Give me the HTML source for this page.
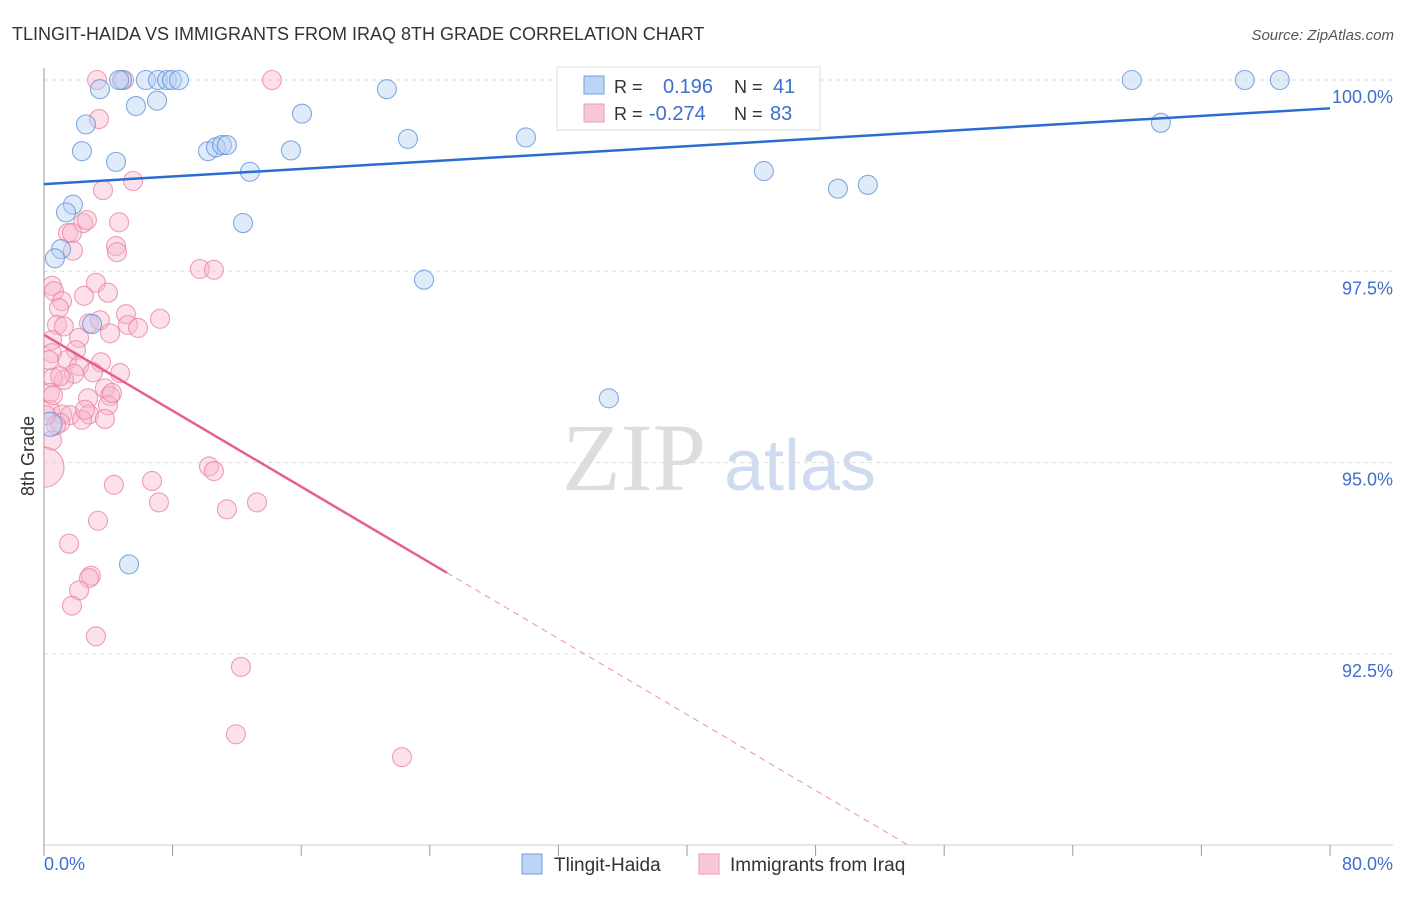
<!DOCTYPE html>
<html><head><meta charset="utf-8"><style>
body{margin:0;background:#fff;font-family:"Liberation Sans",sans-serif}
svg text{font-family:"Liberation Sans",sans-serif}
</style></head><body>
<svg id="chart" width="1406" height="892" viewBox="0 0 1406 892" xmlns="http://www.w3.org/2000/svg">
<defs><clipPath id="plotclip"><rect x="44" y="60" width="1360" height="785"/></clipPath></defs>
<text x="12" y="40" font-size="18" fill="#333">TLINGIT-HAIDA VS IMMIGRANTS FROM IRAQ 8TH GRADE CORRELATION CHART</text>
<text x="1394" y="40" font-size="15" fill="#555" font-style="italic" text-anchor="end">Source: ZipAtlas.com</text>
<g>
<text x="634" y="490" font-size="96" fill="#ddd" text-anchor="middle" font-family="Liberation Serif" style="font-family:'Liberation Serif',serif">ZIP</text>
<text x="800" y="490" font-size="72" fill="#cfdcef" text-anchor="middle">atlas</text>
</g>
<g id="grid"></g>
<g id="axes"></g>
<g id="pts" clip-path="url(#plotclip)"></g>
<g id="trends"></g>
<text transform="translate(34,456) rotate(-90)" font-size="18" fill="#333" text-anchor="middle">8th Grade</text>
<text x="44" y="870" font-size="18" fill="#3d6fcc">0.0%</text>
<text x="1393" y="870" font-size="18" fill="#3d6fcc" text-anchor="end">80.0%</text>
<g>
<rect x="557" y="67" width="263" height="63" fill="#fff" stroke="#ddd"/>
<rect x="584" y="76" width="20" height="18" fill="#bcd4f5" stroke="#6f9ee0"/>
<rect x="584" y="104" width="20" height="18" fill="#f9c8d8" stroke="#e99ab6"/>
<text x="614" y="93" font-size="18" fill="#333">R = </text><text x="663" y="93" font-size="20" fill="#3d6fcc">0.196</text>
<text x="734" y="93" font-size="18" fill="#333">N = </text><text x="773" y="93" font-size="20" fill="#3d6fcc">41</text>
<text x="614" y="120" font-size="18" fill="#333">R = </text><text x="649" y="120" font-size="20" fill="#3d6fcc">-0.274</text>
<text x="734" y="120" font-size="18" fill="#333">N = </text><text x="770" y="120" font-size="20" fill="#3d6fcc">83</text>
</g>
<g>
<rect x="522" y="854" width="20" height="20" fill="#bcd4f5" stroke="#6f9ee0"/>
<text x="554" y="871" font-size="19" fill="#333">Tlingit-Haida</text>
<rect x="699" y="854" width="20" height="20" fill="#f9c8d8" stroke="#e99ab6"/>
<text x="730" y="871" font-size="19" fill="#333">Immigrants from Iraq</text>
</g>
</svg>
<script>
const yTicks=[100,97.5,95,92.5];
const yTickLabels=["100.0%","97.5%","95.0%","92.5%"];
const xTicks=[0,8,16,24,32,40,48,56,64,72,80];
const blueX=[4.85,6.34,7.09,7.65,7.96,8.40,4.67,3.48,5.72,7.03,2.61,2.36,4.48,1.80,1.37,1.06,0.68,0.37,2.99,10.2,10.7,11.07,11.38,12.81,12.38,15.36,16.05,21.33,22.64,29.98,23.64,35.14,5.29,36.57,44.78,49.39,51.25,67.67,69.48,74.7,76.88];
const blueY=[100,100,100,100,100,100,100,99.88,99.66,99.73,99.42,99.07,98.93,98.37,98.27,97.79,97.67,95.50,96.81,99.07,99.12,99.15,99.15,98.80,98.13,99.08,99.56,99.88,99.23,99.25,97.39,95.84,93.67,100,98.81,98.58,98.63,100,99.44,100,100];
const pinkX=[3.30,4.98,14.18,3.42,3.67,5.54,2.43,2.67,4.67,1.49,1.74,1.80,4.48,4.54,9.70,10.57,0.50,0.62,1.12,2.49,3.23,3.98,0.93,7.22,5.10,0.81,1.24,2.80,3.48,5.22,5.85,4.11,0.50,2.18,1.99,0.50,3.55,1.43,2.18,4.73,3.05,1.87,1.24,0.56,3.79,0.37,4.11,2.74,3.98,0.37,1.12,2.80,1.62,3.79,1.00,2.36,0.50,0,10.26,10.57,6.72,4.35,7.15,13.25,11.38,3.36,1.56,2.92,2.80,2.18,1.74,3.23,12.25,11.94,22.27,1.00,0.75,0.12,0.31,2.55,4.23,0.56];
const pinkY=[100,100,100,99.49,98.56,98.68,98.13,98.17,98.14,98.00,98.00,97.77,97.83,97.75,97.53,97.52,97.31,97.24,97.11,97.18,97.35,97.22,97.02,96.88,96.94,96.80,96.78,96.82,96.86,96.80,96.76,96.69,96.60,96.63,96.47,96.43,96.31,96.34,96.26,96.17,96.18,96.16,96.08,96.11,95.97,95.91,95.87,95.84,95.75,95.69,95.63,95.63,95.62,95.57,95.52,95.56,95.29,94.94,94.95,94.89,94.76,94.71,94.48,94.48,94.39,94.24,93.94,93.52,93.49,93.33,93.13,92.73,92.33,91.45,91.15,96.13,95.49,95.62,96.34,95.69,95.91,95.88];
const blueTrend=[98.64,99.63];
const pinkTrend=[96.67,93.56,25.07];
const NS="http://www.w3.org/2000/svg";
const X=v=>44+v*(1286/80);
const Y=v=>80+(100-v)*76.52;
function mk(t,a,p){const e=document.createElementNS(NS,t);for(const k in a)e.setAttribute(k,a[k]);p.appendChild(e);return e;}
const grid=document.getElementById('grid'),axes=document.getElementById('axes'),pts=document.getElementById('pts'),tr=document.getElementById('trends');
yTicks.forEach((v,i)=>{
 const l=mk('line',{x1:44,x2:1393,y1:Y(v),y2:Y(v),stroke:'#ddd','stroke-dasharray':'4,4'},grid);
 
 
 const t=mk('text',{x:1393,y:Y(v)+23,'font-size':18,fill:'#3d6fcc','text-anchor':'end'},axes);
 t.textContent=yTickLabels[i];
 
 
});
const ya=mk('line',{x1:44,x2:44,y1:68,y2:845,stroke:'#999'},axes);


const xa=mk('line',{x1:44,x2:1393,y1:845,y2:845,stroke:'#ccc'},axes);


xTicks.forEach(v=>{
 const l=mk('line',{x1:X(v),x2:X(v),y1:845,y2:856,stroke:'#999'},axes);
 
 
});
function dots(xs,ys,fill,stroke,name){
 xs.forEach((v,i)=>{
  let r=9.5;
  if(v===0&&name==='pink-point')r=20;
  if(v===0.37&&name==='blue-point')r=12;
  const c=mk('circle',{cx:X(v),cy:Y(ys[i]),r:r,fill:fill,'fill-opacity':0.42,stroke:stroke,'stroke-width':1.1,'stroke-opacity':0.75},pts);
  
  
 });
}
dots(pinkX,pinkY,'#f7b6cc','#e8819f','pink-point');
dots(blueX,blueY,'#b4cff3','#5b8fd9','blue-point');
const bt=mk('line',{x1:X(0),y1:Y(blueTrend[0]),x2:X(80),y2:Y(blueTrend[1]),stroke:'#2a6dd0','stroke-width':2.5},tr);


const slope=(pinkTrend[1]-pinkTrend[0])/pinkTrend[2];
const pt=mk('line',{x1:X(0),y1:Y(pinkTrend[0]),x2:X(pinkTrend[2]),y2:Y(pinkTrend[1]),stroke:'#e5608c','stroke-width':2.5},tr);


const xe=(90-pinkTrend[0])/slope;
const pd=mk('line',{x1:X(pinkTrend[2]),y1:Y(pinkTrend[1]),x2:X(xe),y2:Y(90),stroke:'#e5608c','stroke-width':1,'stroke-dasharray':'6,5','stroke-opacity':0.7},tr);


</script>
</body></html>
